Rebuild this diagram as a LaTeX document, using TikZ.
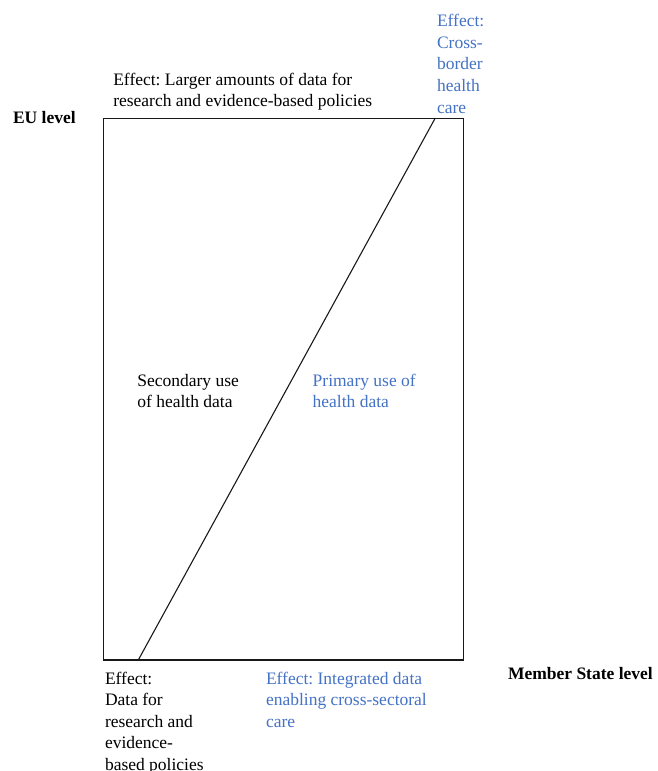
\documentclass[tikz,border=0pt]{standalone}
\usepackage{fontspec}
\setmainfont{Liberation Serif}
\frenchspacing
\definecolor{wordblue}{RGB}{68,114,196}
\tikzset{
  lbl/.style={anchor=base west, inner sep=0pt, outer sep=0pt, font=\fontsize{17.5}{21.5}\selectfont},
  bluelbl/.style={lbl, text=wordblue},
  boldlbl/.style={lbl, font=\fontsize{17.5}{21.5}\selectfont\bfseries},
  frame/.style={draw=black!90, line width=1.1pt},
}
\newcommand{\lines}[1]{\begin{tabular}[t]{@{}l@{}}#1\end{tabular}}
\begin{document}
\begin{tikzpicture}[x=1pt, y=-1pt]
\useasboundingbox (0,0) rectangle (657,771);
% box
\coordinate (tl) at (103.3,118.5);
\coordinate (br) at (463.3,660);
\draw[frame] (tl) rectangle (br);
% diagonal
\coordinate (dbot) at (138.3,660);
\coordinate (dtop) at (435,118.5);
\draw[frame] (dbot) -- (dtop);
% level labels
\node[boldlbl] (eu) at (13,123) {EU level};
\node[boldlbl] (ms) at (508,679) {Member State level};
% top effects
\node[lbl] (toplbl) at (113.3,85) {\lines{Effect: Larger amounts of data for\\research and evidence-based policies}};
\node[bluelbl] (toprlbl) at (437,27) {\lines{Effect:\\Cross-\\border\\health\\care}};
% middle
\node[lbl] (sec) at (137.3,386) {\lines{Secondary use\\of health data}};
\node[bluelbl] (prim) at (312.7,386) {\lines{Primary use of\\health data}};
% bottom effects
\node[lbl] (botl) at (105,684) {\lines{Effect:\\Data for\\research and\\evidence-\\based policies}};
\node[bluelbl] (botr) at (266,684) {\lines{Effect: Integrated data\\enabling cross-sectoral\\care}};
\end{tikzpicture}
\end{document}
